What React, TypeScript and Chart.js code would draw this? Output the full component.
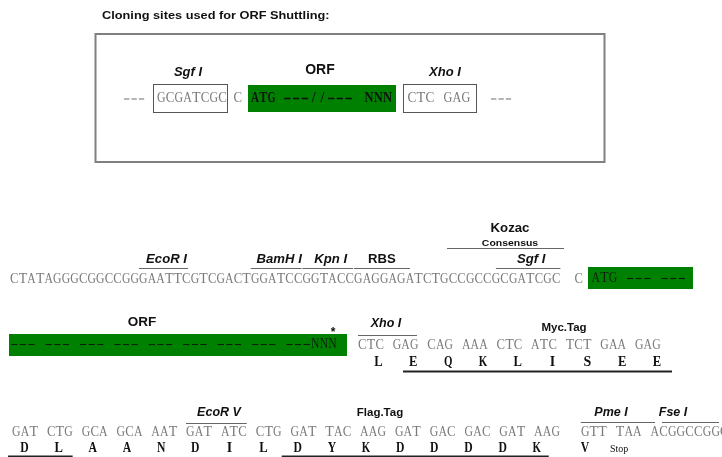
import { useEffect, useRef } from 'react';
import { Chart, registerables, Plugin } from 'chart.js';

Chart.register(...registerables);

// ---- data ----
const title = 'Cloning sites used for ORF Shuttling:';

// shuttle cassette (top panel)
const cassetteLeft = 'GCGATCGC';
const cassetteOrf = ['ATG', '---//---', 'NNN'];
const cassetteRight = 'CTC GAG';
const cassetteLabels = ['Sgf I', 'ORF', 'Xho I'];

// row 1: vector upstream of the ORF (sites are char index ranges)
const upstreamSeq = 'CTATAGGGCGGCCGGGAATTCGTCGACTGGATCCGGTACCGAGGAGATCTGCCGCCGCGATCGC';
const upstreamSites = ['EcoR I', 'BamH I', 'Kpn I', 'RBS', 'Sgf I'];
const upstreamSiteFrom = [15, 28, 34, 40, 56.5];
const upstreamSiteTo = [20.7, 33.9, 39.9, 46.5, 64];
const upstreamItalic = [true, true, true, false, true];
const orfStart = 'ATG --- ---';

// row 2: ORF body, Xho I and Myc tag
const orfBody = '--- --- --- --- --- --- --- --- ---NNN';
const mycCodons = ['CTC', 'GAG', 'CAG', 'AAA', 'CTC', 'ATC', 'TCT', 'GAA', 'GAG'];
const mycAmino = ['L', 'E', 'Q', 'K', 'L', 'I', 'S', 'E', 'E'];

// row 3: Flag tag and stop
const flagCodons = ['GAT', 'CTG', 'GCA', 'GCA', 'AAT', 'GAT', 'ATC', 'CTG', 'GAT', 'TAC',
  'AAG', 'GAT', 'GAC', 'GAC', 'GAT', 'AAG', 'GTT', 'TAA', 'ACGGCCGGCC'];
const flagAmino = ['D', 'L', 'A', 'A', 'N', 'D', 'I', 'L', 'D', 'Y',
  'K', 'D', 'D', 'D', 'D', 'K', 'V', 'Stop'];

// ---- styling ----
const GREEN = '#008000';
const GREY = '#7a7a7a';
const INK = '#111';
const SANS = "'Liberation Sans', Arial, sans-serif";
const SERIF = "'Liberation Serif', 'Times New Roman', serif";

type Ctx = CanvasRenderingContext2D;

function label(ctx: Ctx, text: string, x: number, y: number, font: string, sx = 1, align: CanvasTextAlign = 'center') {
  ctx.save();
  ctx.font = font;
  ctx.fillStyle = INK;
  ctx.textAlign = align;
  ctx.textBaseline = 'middle';
  ctx.translate(x, y);
  ctx.scale(sx, 1);
  ctx.fillText(text, 0, 0);
  ctx.restore();
}

const diagram: Plugin = {
  id: 'dnaDiagram',
  afterDraw(chart) {
    const ctx = chart.ctx;
    const xs = chart.scales.x;
    const ys = chart.scales.y;
    const X = (v: number) => xs.getPixelForValue(v);
    const Y = (v: number) => ys.getPixelForValue(v);

    // fixed pitch characters, one per slot; dashes drawn as short strokes
    const seq = (text: string, x0: number, y: number, pitch: number, font: string, color: string, dashW = 1.1) => {
      ctx.save();
      ctx.font = font;
      ctx.fillStyle = color;
      ctx.strokeStyle = color;
      ctx.textAlign = 'center';
      ctx.textBaseline = 'middle';
      for (let i = 0; i < text.length; i++) {
        const ch = text[i];
        if (ch === ' ') continue;
        const cx = x0 + pitch * (i + 0.5);
        if (ch === '-') {
          ctx.lineWidth = dashW;
          ctx.beginPath();
          ctx.moveTo(X(cx - pitch * 0.36), Y(y));
          ctx.lineTo(X(cx + pitch * 0.36), Y(y));
          ctx.stroke();
        } else {
          ctx.fillText(ch, X(cx), Y(y), pitch * 0.98);
        }
      }
      ctx.restore();
    };
    const hline = (x1: number, x2: number, y: number, color: string, w: number) => {
      ctx.save();
      ctx.strokeStyle = color;
      ctx.lineWidth = w;
      ctx.beginPath();
      ctx.moveTo(X(x1), Y(y));
      ctx.lineTo(X(x2), Y(y));
      ctx.stroke();
      ctx.restore();
    };
    const rect = (x1: number, y1: number, x2: number, y2: number, fill: string | null, stroke: string | null, w = 1) => {
      ctx.save();
      if (fill) {
        ctx.fillStyle = fill;
        ctx.fillRect(X(x1), Y(y1), X(x2) - X(x1), Y(y2) - Y(y1));
      }
      if (stroke) {
        ctx.strokeStyle = stroke;
        ctx.lineWidth = w;
        ctx.strokeRect(X(x1), Y(y1), X(x2) - X(x1), Y(y2) - Y(y1));
      }
      ctx.restore();
    };

    const seqFont = `15px ${SERIF}`;
    const aaFont = `bold 14px ${SERIF}`;
    const siteFont = (italic: boolean, size = 12) => `${italic ? 'italic ' : ''}bold ${size}px ${SANS}`;

    // ---- top panel ----
    label(ctx, title, X(102), Y(16), `bold 11px ${SANS}`, 1.16, 'left');
    rect(95.5, 34, 604.5, 162, null, '#808080', 2);

    seq('---', 123, 99, 7.4, seqFont, GREY);
    rect(153.5, 84.5, 227.5, 112.5, null, '#555', 1);
    seq(cassetteLeft, 157, 98.5, 8.75, seqFont, GREY);
    seq('C', 233.5, 98.5, 8.75, seqFont, GREY);
    rect(248, 85, 396, 112, GREEN, null);
    seq(cassetteOrf[0], 251, 98.5, 8.2, `bold 14px ${SERIF}`, INK);
    seq(cassetteOrf[1], 283, 98.5, 8.75, `bold 14px ${SERIF}`, INK, 1.6);
    seq(cassetteOrf[2], 364.5, 98.5, 9.2, `bold 14px ${SERIF}`, INK);
    rect(403.5, 84.5, 476.5, 112.5, null, '#555', 1);
    seq(cassetteRight, 407.5, 98.5, 9, seqFont, GREY);
    seq('---', 490, 99, 7.4, seqFont, GREY);

    label(ctx, cassetteLabels[0], X(188), Y(72), siteFont(true, 13));
    label(ctx, cassetteLabels[1], X(320), Y(70), siteFont(false, 14));
    label(ctx, cassetteLabels[2], X(445), Y(72), siteFont(true, 13));

    // ---- row 1 ----
    const p1 = 8.6;
    const s1 = 10;
    seq(upstreamSeq, s1, 279.5, p1, seqFont, GREY);
    seq('C', 574.5, 279.5, p1, seqFont, GREY);
    const labelShift = [3, 3, 3, 0, 3];
    upstreamSites.forEach((name, i) => {
      const a = s1 + p1 * upstreamSiteFrom[i];
      const b = s1 + p1 * upstreamSiteTo[i];
      hline(a, b, 268.5, '#666', 1);
      label(ctx, name, X((a + b) / 2 + labelShift[i]), Y(260), siteFont(upstreamItalic[i], 12.5), 1.05);
    });
    hline(447, 564, 248.5, '#666', 1);
    label(ctx, 'Kozac', X(510), Y(229), `bold 12px ${SANS}`, 1.1);
    label(ctx, 'Consensus', X(510), Y(243.5), `bold 9.5px ${SANS}`, 1.1);
    rect(588, 267, 693, 289, GREEN, null);
    seq(orfStart, 591.5, 278.5, 8.6, seqFont, '#0d1f0d');

    // ---- row 2 ----
    rect(9, 334, 347, 356, GREEN, null);
    seq(orfBody, 10, 344.5, 8.6, seqFont, '#0d1f0d');
    label(ctx, '*', X(333), Y(333), `bold 12px ${SANS}`);
    label(ctx, 'ORF', X(142), Y(322), siteFont(false, 13.5));

    hline(358, 417, 335.5, '#666', 1);
    label(ctx, 'Xho I', X(386), Y(324), siteFont(true, 12.5));
    label(ctx, 'Myc.Tag', X(564), Y(328), `bold 11.5px ${SANS}`);
    mycCodons.forEach((c, i) => seq(c, 358 + 34.6 * i, 345, 8.65, seqFont, GREY));
    mycAmino.forEach((a, i) => seq(a, 378.5 + 34.8 * i - 4.3, 362.5, 8.6, aaFont, INK));
    hline(403, 672, 371.5, '#222', 2);

    // ---- row 3 ----
    const codonX = (i: number) => 12 + 34.8 * i + (i >= 16 ? 12 : 0);
    const aminoX = (i: number) => 24.5 + 34.15 * i + (i >= 16 ? 14 : 0);
    flagCodons.forEach((c, i) => seq(c, codonX(i), 432, 8.7, seqFont, GREY));
    flagAmino.forEach((a, i) => {
      if (a.length > 1) {
        label(ctx, a, X(aminoX(i)), Y(449.5), `10px ${SERIF}`);
      } else {
        seq(a, aminoX(i) - 4.3, 448.5, 8.6, aaFont, INK);
      }
    });
    hline(codonX(5), codonX(6) + 26, 423.5, '#666', 1);
    label(ctx, 'EcoR V', X(219), Y(412.5), siteFont(true, 12.5));
    label(ctx, 'Flag.Tag', X(380), Y(413), `bold 11.5px ${SANS}`);
    hline(codonX(16), 655, 422.5, '#666', 1);
    label(ctx, 'Pme I', X(611), Y(412.5), siteFont(true, 12.5));
    hline(662, 719, 422.5, '#666', 1);
    label(ctx, 'Fse I', X(673), Y(412.5), siteFont(true, 12.5));
    hline(aminoX(0) - 16.5, aminoX(1) + 14, 456.5, '#222', 2);
    hline(aminoX(8) - 16, aminoX(15) + 12, 456.5, '#222', 2);
  },
};

export default function App() {
  const canvasRef = useRef<HTMLCanvasElement>(null);
  const chartInstance = useRef<Chart | null>(null);

  useEffect(() => {
    document.body.style.margin = '0';
    if (!canvasRef.current) return;
    if (chartInstance.current) chartInstance.current.destroy();

    chartInstance.current = new Chart(canvasRef.current, {
      type: 'scatter',
      data: { datasets: [] },
      options: {
        animation: false,
        responsive: false,
        devicePixelRatio: 1,
        layout: { padding: 0 },
        plugins: { legend: { display: false }, tooltip: { enabled: false } },
        scales: {
          x: { type: 'linear', min: 0, max: 722, display: false },
          y: { type: 'linear', min: 0, max: 457, reverse: true, display: false },
        },
      },
      plugins: [diagram],
    });

    return () => {
      if (chartInstance.current) {
        chartInstance.current.destroy();
        chartInstance.current = null;
      }
    };
  }, []);

  return (
    <div style={{ width: 722, height: 457, background: '#fff' }}>
      <canvas ref={canvasRef} width={722} height={457} style={{ display: 'block' }} />
    </div>
  );
}
